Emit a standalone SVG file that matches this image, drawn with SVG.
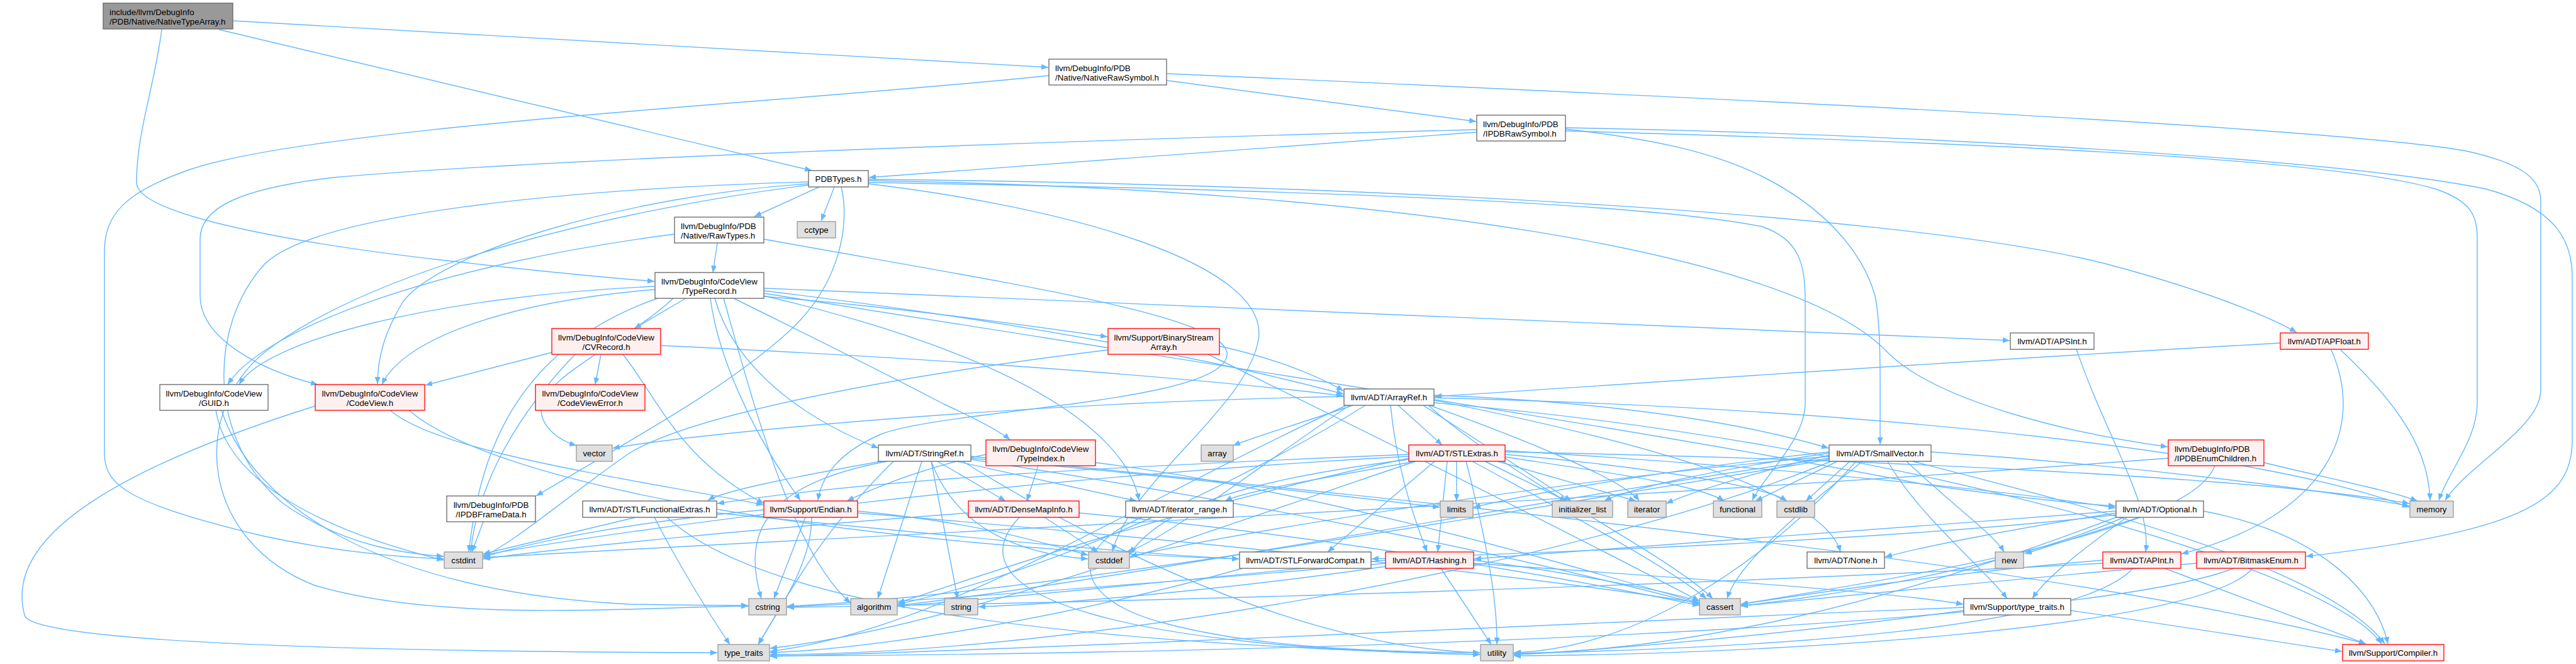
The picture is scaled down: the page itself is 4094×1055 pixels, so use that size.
<svg xmlns="http://www.w3.org/2000/svg" width="4094" height="1055" viewBox="0 0 4094 1055">
<defs>
<marker id="ah" markerUnits="userSpaceOnUse" markerWidth="12" markerHeight="10" refX="11" refY="4.5" orient="auto"><path d="M0,0 L11,4.5 L0,9 z" fill="#63b8ff"/></marker>
<style>
.e path{fill:none;stroke:#63b8ff;stroke-width:1.4;marker-end:url(#ah)}
text{font-family:"Liberation Sans",Arial,sans-serif;font-size:13.3px;fill:#000}
.c{text-anchor:middle}
rect{stroke-width:1.3}
rect.w{fill:#fff;stroke:#666}
rect.r{fill:#fff0f0;stroke:#f00}
rect.g{fill:#e0e0e0;stroke:#999}
rect.k{fill:#999;stroke:#666}
</style>
</defs>
<rect width="4094" height="1055" fill="#fff"/>
<g id="edges" class="e">
<path d="M370,33 L1666,107"/>
<path d="M348,47 L1290,271"/>
<path d="M257,47 C245,140 217,210 217,290 C217,345 500,390 700,413 C850,430 950,440 1040,447"/>
<path d="M1855,128 L2346,193"/>
<path d="M1667,120 C1300,160 500,200 300,270 C200,305 166,340 166,400 L166,720 C166,770 200,800 420,852 C550,880 650,886 705,888"/>
<path d="M1855,117 C2600,150 3700,200 3920,240 C4020,262 4038,290 4038,320 L4038,620 C4038,680 3920,740 3886,795"/>
<path d="M2347,210 L1381,282"/>
<path d="M2347,206 C1800,220 900,250 530,282 C380,300 318,330 318,380 L318,470 C318,540 420,590 505,611"/>
<path d="M2488,205 C2620,220 2720,240 2800,280 C2900,330 2960,400 2980,470 C2990,520 2988,600 2988,706"/>
<path d="M2488,203 C3000,212 3700,250 3950,300 C4060,330 4088,380 4088,440 L4088,700 C4088,800 4000,845 3665,884"/>
<path d="M2488,208 C3100,225 3700,250 3870,300 C3930,320 3937,345 3937,380 L3937,640 C3937,700 3890,750 3876,795"/>
<path d="M1302,297 L1199,344"/>
<path d="M1326,297 L1305,351"/>
<path d="M1380,285 C2000,290 3000,330 3350,420 C3500,460 3600,500 3650,528"/>
<path d="M1380,287 C2200,300 2850,400 3000,560 C3080,640 3300,690 3445,710"/>
<path d="M1380,290 C2000,300 2600,320 2800,360 C2860,380 2869,420 2869,480 L2869,640 C2869,700 2800,760 2785,795"/>
<path d="M1285,292 C1000,310 700,400 640,480 C610,530 600,570 600,610"/>
<path d="M1337,297 C1350,350 1340,450 1250,530 C1150,620 1000,700 852,788"/>
<path d="M1285,289 C900,300 500,340 420,420 C330,520 330,700 450,800 C550,870 650,880 705,884"/>
<path d="M1285,294 C1000,330 600,420 420,560 C300,660 320,860 500,930 C700,990 1000,965 1189,963"/>
<path d="M1380,292 C1700,330 2020,420 2000,540 C1980,650 1800,760 1768,876"/>
<path d="M1214,458 C2000,490 2800,525 3194,541"/>
<path d="M1214,462 C1700,520 2000,590 2135,626"/>
<path d="M1214,466 C1800,560 2600,680 3060,770 C3200,790 3300,800 3362,804"/>
<path d="M1136,474 C1160,560 1240,650 1396,712"/>
<path d="M1214,470 C1600,560 1790,680 1810,795"/>
<path d="M1090,474 L1008,522"/>
<path d="M1041,460 C800,480 640,540 607,611"/>
<path d="M1041,455 C700,470 420,540 380,611"/>
<path d="M1166,474 C1300,540 1420,600 1500,642 C1550,665 1590,685 1605,699"/>
<path d="M1214,471 C1450,490 1650,520 1760,535"/>
<path d="M1129,474 C1140,560 1190,680 1272,795"/>
<path d="M1150,474 C1200,650 1260,880 1352,958"/>
<path d="M1045,474 C800,560 760,750 745,877"/>
<path d="M1070,474 C1000,540 860,600 860,650 C860,680 890,700 916,708"/>
<path d="M1050,549 C1500,570 1900,600 2135,629"/>
<path d="M877,560 L676,612"/>
<path d="M955,563 L946,611"/>
<path d="M914,563 C830,650 760,760 748,877"/>
<path d="M990,563 C1050,640 1080,730 1214,800"/>
<path d="M343,652 C360,760 500,840 705,890"/>
<path d="M352,652 C400,800 600,940 1000,960 C1100,962 1150,962 1189,962"/>
<path d="M501,645 C200,740 0,850 40,980 C80,1030 800,1036 1140,1037"/>
<path d="M620,652 C700,720 1000,760 1213,802"/>
<path d="M650,652 C800,780 1400,870 1969,888"/>
<path d="M768,829 L750,877"/>
<path d="M1938,550 C2030,570 2100,600 2135,621"/>
<path d="M1761,556 C1400,600 1100,660 1000,720 C900,790 820,860 768,884"/>
<path d="M1920,563 C2200,700 2500,850 2701,955"/>
<path d="M2210,644 C2220,750 2250,830 2268,877"/>
<path d="M2279,636 C2600,700 2900,780 2925,877"/>
<path d="M2222,644 L2292,707"/>
<path d="M2279,628 C2600,640 2800,680 2906,712"/>
<path d="M2279,640 C3000,700 3700,900 3785,1023"/>
<path d="M2170,644 C2000,750 1700,900 1427,960"/>
<path d="M2150,644 C2060,675 1990,695 1960,708"/>
<path d="M2270,644 C2400,760 2650,880 2722,951"/>
<path d="M2145,644 C2000,740 1850,860 1790,877"/>
<path d="M2262,644 L2497,796"/>
<path d="M2272,644 C2400,690 2580,760 2605,796"/>
<path d="M2279,632 C3000,650 3600,720 3829,806"/>
<path d="M2140,644 C1800,800 1500,1000 1224,1035"/>
<path d="M2136,630 C1600,640 1100,690 974,712"/>
<path d="M1490,733 L1598,796"/>
<path d="M1400,733 C1250,760 1150,780 1125,795"/>
<path d="M1520,733 L1806,796"/>
<path d="M1543,725 C2300,800 3300,900 3760,1023"/>
<path d="M1465,733 L1395,951"/>
<path d="M1543,730 C2000,800 2400,880 2701,960"/>
<path d="M1480,733 C1520,840 1620,880 1729,888"/>
<path d="M1410,733 C1210,770 1180,850 1210,951"/>
<path d="M1543,728 C1900,760 2150,790 2288,806"/>
<path d="M1480,733 L1522,951"/>
<path d="M1420,733 C1300,850 1250,950 1205,1024"/>
<path d="M1530,733 C1800,900 2100,1030 2352,1037"/>
<path d="M1650,740 L1632,796"/>
<path d="M1567,722 C1480,740 1400,770 1346,796"/>
<path d="M1741,735 C2100,780 2500,900 2701,958"/>
<path d="M2300,733 L2285,877"/>
<path d="M2392,716 C2800,740 3200,780 3362,807"/>
<path d="M2280,733 L2110,877"/>
<path d="M2239,722 C1800,740 1400,760 1140,800"/>
<path d="M2250,733 C2100,760 1980,780 1947,796"/>
<path d="M2239,728 C1900,800 1600,900 1427,958"/>
<path d="M2340,733 C2500,820 2650,900 2712,951"/>
<path d="M2239,730 C2000,760 1850,800 1796,880"/>
<path d="M2239,725 C1600,760 1000,840 768,882"/>
<path d="M2392,722 C2600,740 2800,770 2840,796"/>
<path d="M2392,726 C2550,750 2700,770 2740,796"/>
<path d="M2360,733 L2490,796"/>
<path d="M2380,733 L2600,796"/>
<path d="M2315,733 L2315,796"/>
<path d="M2392,718 C3000,730 3600,760 3829,800"/>
<path d="M2250,733 C1900,850 1500,1000 1224,1030"/>
<path d="M2330,733 C2360,850 2380,950 2379,1024"/>
<path d="M3040,733 C3300,800 3700,900 3790,1023"/>
<path d="M3000,733 C3050,820 3150,900 3190,951"/>
<path d="M2907,728 C2400,800 1800,920 1427,962"/>
<path d="M2960,733 C2850,820 2760,900 2745,951"/>
<path d="M2907,725 C2500,760 2000,840 1796,884"/>
<path d="M2940,733 L2870,796"/>
<path d="M2907,730 C2300,830 1600,950 1251,963"/>
<path d="M2920,733 L2790,796"/>
<path d="M2907,720 C2700,750 2580,780 2550,796"/>
<path d="M2907,723 C2750,760 2670,790 2648,800"/>
<path d="M2907,718 C2700,740 2450,780 2342,806"/>
<path d="M3069,718 C3400,740 3700,780 3829,804"/>
<path d="M3030,733 C3100,800 3170,850 3185,877"/>
<path d="M2910,733 C2500,900 1700,1040 1224,1040"/>
<path d="M2950,733 C2800,900 2600,1030 2406,1037"/>
<path d="M3598,735 C3700,760 3800,780 3842,796"/>
<path d="M3520,740 C3480,850 3000,920 2767,960"/>
<path d="M3446,728 C2500,800 1200,860 768,886"/>
<path d="M1139,815 C1500,850 1800,880 1969,888"/>
<path d="M1010,822 L768,880"/>
<path d="M1040,822 C1080,900 1130,980 1160,1024"/>
<path d="M1060,822 C1200,950 1600,1020 2352,1040"/>
<path d="M1280,822 L1230,951"/>
<path d="M1290,822 C1290,900 1230,980 1205,1024"/>
<path d="M1214,810 C1000,830 850,860 768,885"/>
<path d="M1363,812 C1550,830 1650,860 1729,882"/>
<path d="M1363,815 C1800,850 2400,910 2701,958"/>
<path d="M1660,822 L1745,877"/>
<path d="M1620,822 C1500,950 1800,1030 2352,1040"/>
<path d="M1715,815 C2100,850 2500,920 2701,962"/>
<path d="M1539,815 C1200,840 900,870 768,888"/>
<path d="M1815,822 C1700,870 1700,950 1850,990 C2000,1030 2200,1036 2352,1037"/>
<path d="M1975,903 C1700,980 1400,1030 1224,1037"/>
<path d="M2290,903 L2370,1024"/>
<path d="M2342,895 C2700,920 3000,940 3120,960"/>
<path d="M2202,890 C1900,920 1600,950 1427,963"/>
<path d="M2342,890 C2500,910 2650,940 2701,955"/>
<path d="M2202,895 C1800,930 1400,960 1251,964"/>
<path d="M2202,900 C2000,930 1700,960 1555,964"/>
<path d="M3363,812 C3000,840 2600,870 2343,888"/>
<path d="M3363,815 C3200,840 3050,870 2996,885"/>
<path d="M3363,818 C3000,860 2400,880 2180,888"/>
<path d="M3502,812 C3700,850 3780,950 3795,1023"/>
<path d="M3380,822 C3300,880 3250,920 3230,951"/>
<path d="M3375,822 C3200,900 2900,950 2767,962"/>
<path d="M3400,822 L3218,880"/>
<path d="M3363,822 C3000,960 2700,1030 2406,1040"/>
<path d="M3440,903 L3760,1023"/>
<path d="M3342,890 C3100,910 2900,940 2767,960"/>
<path d="M3390,903 C3300,1000 2800,1030 2406,1038"/>
<path d="M3342,895 C2500,940 1600,960 1251,965"/>
<path d="M3491,895 C3200,920 2900,950 2767,963"/>
<path d="M3550,903 C3300,1000 2000,1040 1224,1042"/>
<path d="M3580,903 C3500,1000 2800,1040 2406,1042"/>
<path d="M3291,970 C3500,1000 3650,1025 3722,1035"/>
<path d="M3121,965 C2500,990 1700,1030 1224,1043"/>
<path d="M3121,970 C2900,1000 2600,1030 2406,1040"/>
<path d="M3300,555 C3350,700 3420,800 3410,877"/>
<path d="M3624,545 C3000,580 2600,610 2280,630"/>
<path d="M3705,556 C3760,680 3700,820 3467,880"/>
<path d="M3720,556 C3820,650 3860,720 3862,795"/>
<path d="M1140,386 L1133,433"/>
<path d="M1072,372 C700,420 420,520 362,611"/>
<path d="M1214,380 C1600,450 1940,500 1950,560 C1960,640 1500,650 1400,690 C1330,720 1305,760 1300,795"/>
</g>
<g id="n1"><rect class="k" x="164" y="5" width="206" height="41"/><text x="174" y="23.5">include/llvm/DebugInfo</text><text x="174" y="38.5">/PDB/Native/NativeTypeArray.h</text></g>
<g id="n2"><rect class="w" x="1667" y="94" width="187" height="41"/><text x="1677" y="112.5">llvm/DebugInfo/PDB</text><text x="1677" y="127.5">/Native/NativeRawSymbol.h</text></g>
<g id="n3"><rect class="w" x="2347" y="183" width="141" height="41"/><text x="2357" y="201.5">llvm/DebugInfo/PDB</text><text x="2357" y="216.5">/IPDBRawSymbol.h</text></g>
<g id="n4"><rect class="w" x="1285" y="271" width="95" height="26"/><text class="c" x="1332.5" y="289">PDBTypes.h</text></g>
<g id="n5"><rect class="w" x="1072" y="345" width="142" height="41"/><text x="1082" y="363.5">llvm/DebugInfo/PDB</text><text x="1082" y="378.5">/Native/RawTypes.h</text></g>
<g id="n6"><rect class="g" x="1267" y="352" width="61" height="26"/><text class="c" x="1297.5" y="370">cctype</text></g>
<g id="n7"><rect class="w" x="1041" y="433" width="173" height="41"/><text class="c" x="1127.5" y="451.5">llvm/DebugInfo/CodeView</text><text class="c" x="1127.5" y="466.5">/TypeRecord.h</text></g>
<g id="n8"><rect class="r" x="877" y="522" width="173" height="41"/><text class="c" x="963.5" y="540.5">llvm/DebugInfo/CodeView</text><text class="c" x="963.5" y="555.5">/CVRecord.h</text></g>
<g id="n9"><rect class="r" x="1761" y="522" width="177" height="41"/><text class="c" x="1849.5" y="540.5">llvm/Support/BinaryStream</text><text class="c" x="1849.5" y="555.5">Array.h</text></g>
<g id="n10"><rect class="w" x="3195" y="529" width="133" height="26"/><text class="c" x="3261.5" y="547">llvm/ADT/APSInt.h</text></g>
<g id="n11"><rect class="r" x="3624" y="529" width="140" height="26"/><text class="c" x="3694" y="547">llvm/ADT/APFloat.h</text></g>
<g id="n12"><rect class="w" x="254" y="611" width="172" height="41"/><text class="c" x="340" y="629.5">llvm/DebugInfo/CodeView</text><text class="c" x="340" y="644.5">/GUID.h</text></g>
<g id="n13"><rect class="r" x="501" y="611" width="174" height="41"/><text class="c" x="588" y="629.5">llvm/DebugInfo/CodeView</text><text class="c" x="588" y="644.5">/CodeView.h</text></g>
<g id="n14"><rect class="r" x="851" y="611" width="174" height="41"/><text class="c" x="938" y="629.5">llvm/DebugInfo/CodeView</text><text class="c" x="938" y="644.5">/CodeViewError.h</text></g>
<g id="n15"><rect class="w" x="2136" y="618" width="143" height="26"/><text class="c" x="2207.5" y="636">llvm/ADT/ArrayRef.h</text></g>
<g id="n16"><rect class="g" x="916" y="707" width="57" height="26"/><text class="c" x="944.5" y="725">vector</text></g>
<g id="n17"><rect class="w" x="1396" y="707" width="147" height="26"/><text class="c" x="1469.5" y="725">llvm/ADT/StringRef.h</text></g>
<g id="n18"><rect class="r" x="1567" y="699" width="174" height="41"/><text class="c" x="1654" y="717.5">llvm/DebugInfo/CodeView</text><text class="c" x="1654" y="732.5">/TypeIndex.h</text></g>
<g id="n19"><rect class="g" x="1909" y="707" width="51" height="26"/><text class="c" x="1934.5" y="725">array</text></g>
<g id="n20"><rect class="r" x="2239" y="707" width="153" height="26"/><text class="c" x="2315.5" y="725">llvm/ADT/STLExtras.h</text></g>
<g id="n21"><rect class="w" x="2907" y="707" width="162" height="26"/><text class="c" x="2988" y="725">llvm/ADT/SmallVector.h</text></g>
<g id="n22"><rect class="r" x="3446" y="699" width="152" height="41"/><text x="3456" y="717.5">llvm/DebugInfo/PDB</text><text x="3456" y="732.5">/IPDBEnumChildren.h</text></g>
<g id="n23"><rect class="w" x="710" y="788" width="141" height="41"/><text class="c" x="780.5" y="806.5">llvm/DebugInfo/PDB</text><text class="c" x="780.5" y="821.5">/IPDBFrameData.h</text></g>
<g id="n24"><rect class="w" x="926" y="796" width="213" height="26"/><text class="c" x="1032.5" y="814">llvm/ADT/STLFunctionalExtras.h</text></g>
<g id="n25"><rect class="r" x="1214" y="796" width="149" height="26"/><text class="c" x="1288.5" y="814">llvm/Support/Endian.h</text></g>
<g id="n26"><rect class="r" x="1539" y="796" width="176" height="26"/><text class="c" x="1627" y="814">llvm/ADT/DenseMapInfo.h</text></g>
<g id="n27"><rect class="w" x="1789" y="796" width="171" height="26"/><text class="c" x="1874.5" y="814">llvm/ADT/iterator_range.h</text></g>
<g id="n28"><rect class="g" x="2289" y="796" width="52" height="26"/><text class="c" x="2315" y="814">limits</text></g>
<g id="n29"><rect class="g" x="2467" y="796" width="96" height="26"/><text class="c" x="2515" y="814">initializer_list</text></g>
<g id="n30"><rect class="g" x="2587" y="796" width="61" height="26"/><text class="c" x="2617.5" y="814">iterator</text></g>
<g id="n31"><rect class="g" x="2723" y="796" width="77" height="26"/><text class="c" x="2761.5" y="814">functional</text></g>
<g id="n32"><rect class="g" x="2824" y="796" width="60" height="26"/><text class="c" x="2854" y="814">cstdlib</text></g>
<g id="n33"><rect class="w" x="3363" y="796" width="139" height="26"/><text class="c" x="3432.5" y="814">llvm/ADT/Optional.h</text></g>
<g id="n34"><rect class="g" x="3830" y="796" width="69" height="26"/><text class="c" x="3864.5" y="814">memory</text></g>
<g id="n35"><rect class="g" x="706" y="877" width="61" height="26"/><text class="c" x="736.5" y="895">cstdint</text></g>
<g id="n36"><rect class="g" x="1730" y="877" width="65" height="26"/><text class="c" x="1762.5" y="895">cstddef</text></g>
<g id="n37"><rect class="w" x="1970" y="877" width="209" height="26"/><text class="c" x="2074.5" y="895">llvm/ADT/STLForwardCompat.h</text></g>
<g id="n38"><rect class="r" x="2202" y="877" width="140" height="26"/><text class="c" x="2272" y="895">llvm/ADT/Hashing.h</text></g>
<g id="n39"><rect class="w" x="2872" y="877" width="123" height="26"/><text class="c" x="2933.5" y="895">llvm/ADT/None.h</text></g>
<g id="n40"><rect class="g" x="3171" y="877" width="45" height="26"/><text class="c" x="3193.5" y="895">new</text></g>
<g id="n41"><rect class="r" x="3342" y="877" width="124" height="26"/><text class="c" x="3404" y="895">llvm/ADT/APInt.h</text></g>
<g id="n42"><rect class="r" x="3491" y="877" width="173" height="26"/><text class="c" x="3577.5" y="895">llvm/ADT/BitmaskEnum.h</text></g>
<g id="n43"><rect class="g" x="1190" y="951" width="60" height="26"/><text class="c" x="1220" y="969">cstring</text></g>
<g id="n44"><rect class="g" x="1352" y="951" width="74" height="26"/><text class="c" x="1389" y="969">algorithm</text></g>
<g id="n45"><rect class="g" x="1501" y="951" width="53" height="26"/><text class="c" x="1527.5" y="969">string</text></g>
<g id="n46"><rect class="g" x="2701" y="951" width="65" height="26"/><text class="c" x="2733.5" y="969">cassert</text></g>
<g id="n47"><rect class="w" x="3121" y="951" width="170" height="26"/><text class="c" x="3206" y="969">llvm/Support/type_traits.h</text></g>
<g id="n48"><rect class="g" x="1141" y="1024" width="82" height="26"/><text class="c" x="1182" y="1042">type_traits</text></g>
<g id="n49"><rect class="g" x="2353" y="1024" width="52" height="26"/><text class="c" x="2379" y="1042">utility</text></g>
<g id="n50"><rect class="r" x="3723" y="1024" width="161" height="26"/><text class="c" x="3803.5" y="1042">llvm/Support/Compiler.h</text></g>
</svg>
